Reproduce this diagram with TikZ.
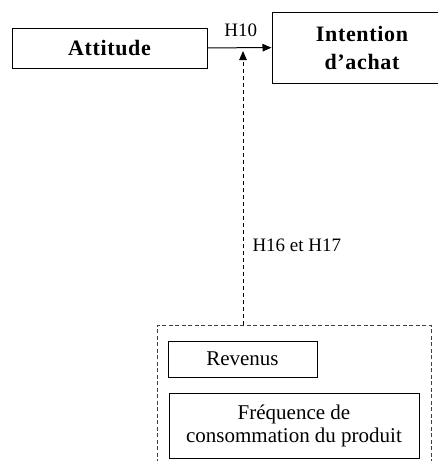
\documentclass[tikz,border=0pt]{standalone}
\usepackage{fontspec}
\setmainfont{Liberation Serif}
\newfontfamily\headfont[LetterSpace=3]{Liberation Serif}
\usetikzlibrary{arrows.meta}
\tikzset{
  box/.style={draw, line width=1pt, inner sep=0pt, align=center,
    font=\fontsize{21}{23}\selectfont},
  headbox/.style={box, font=\headfont\fontsize{22}{28}\selectfont\bfseries},
  grpbox/.style={draw=black!75, line width=0.9pt, dash pattern=on 4pt off 2.5pt},
  lbl/.style={inner sep=0pt, font=\fontsize{19}{21}\selectfont},
  link/.style={line width=1pt, -{Triangle[length=9pt,width=7.5pt]}},
  modlink/.style={link, dash pattern=on 4pt off 3pt},
}
\begin{document}
\begin{tikzpicture}[x=1pt,y=-1pt]
        \useasboundingbox (0,0) rectangle (438,461);
        % Main Constructs
        \node[headbox, minimum width=195pt, minimum height=40pt] (att) at (109.5,48) {Attitude};
        \node[headbox, minimum width=180pt, minimum height=71pt] (int) at (362,47.5) {Intention\\d’achat};
        % Moderating Variables
        \node[grpbox, minimum width=274pt, minimum height=150pt, anchor=north west] (mods) at (157,325) {};
        \node[box, minimum width=149pt, minimum height=36pt] (rev) at (242.5,359) {Revenus};
        \node[box, minimum width=250pt, minimum height=65pt] (freq) at (294,425.5) {Fréquence de\\consommation du produit};
        %
        % Direct Effect:
        \draw[link] (att) -- node[lbl, above=11pt, pos=0.52] {H10} (int);
        % Moderation Effect:
        \coordinate (hit) at (243,51);
        \draw[modlink] (mods.north -| hit) -- node[lbl, right=9pt, pos=0.29] {H16 et H17} (hit);
\end{tikzpicture}
\end{document}
